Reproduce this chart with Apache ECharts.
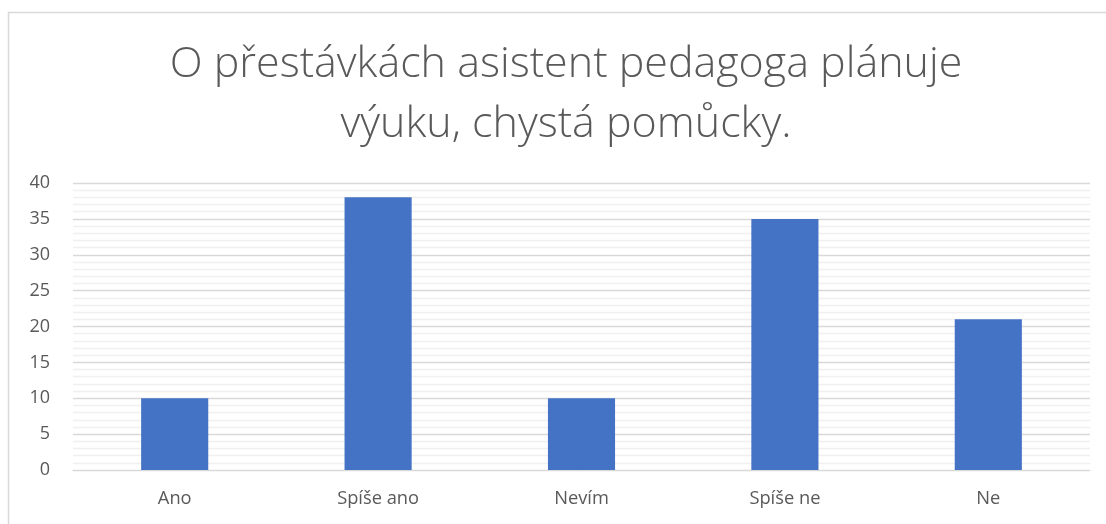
<!DOCTYPE html>
<html><head><meta charset="utf-8">
<script src="https://cdn.jsdelivr.net/npm/echarts@6/dist/echarts.min.js"></script>
<style>html,body{margin:0;padding:0;background:#fff}#c{width:1106px;height:524px}</style>
</head><body><div id="c"></div>
<script>
const titleText = 'O přestávkách asistent pedagoga plánuje\nvýuku, chystá pomůcky.';
const categories = ['Ano', 'Spíše ano', 'Nevím', 'Spíše ne', 'Ne'];
const values = [10, 38, 10, 35, 21];
const yTicks = { min: 0, max: 40, interval: 5 };

const chart = echarts.init(document.getElementById('c'));
chart.setOption({
  animation: false,
  backgroundColor: '#fff',
  graphic: [{
    type: 'rect', shape: { x: 8.5, y: 12.5, width: 1120, height: 540 },
    style: { fill: 'none', stroke: '#d9d9d9', lineWidth: 1.5 }, silent: true
  }],
  title: {
    text: titleText, left: 561, textAlign: 'center', top: 30,
    textStyle: { fontFamily: 'Open Sans', fontWeight: 300, fontSize: 43, color: '#595959', lineHeight: 60 }
  },
  grid: { left: 73, right: 16, top: 183, bottom: 54 },
  xAxis: {
    type: 'category', data: categories,
    axisLine: { show: true, lineStyle: { color: '#d9d9d9', width: 1 } },
    axisTick: { show: false },
    axisLabel: { color: '#595959', fontFamily: 'Open Sans', fontSize: 18.3, margin: 20 }
  },
  yAxis: {
    type: 'value', min: yTicks.min, max: yTicks.max, interval: yTicks.interval,
    axisLine: { show: false }, axisTick: { show: false },
    axisLabel: { color: '#595959', fontFamily: 'Open Sans', fontSize: 18, margin: 23 },
    splitLine: { lineStyle: { color: '#d9d9d9', width: 1.3 } },
    minorTick: { show: false, splitNumber: 5 },
    minorSplitLine: { show: true, lineStyle: { color: '#f0f0f0', width: 1.3 } }
  },
  series: [{
    type: 'bar', data: values, barWidth: '33%',
    itemStyle: { color: '#4472c4' }
  }]
});
</script></body></html>
